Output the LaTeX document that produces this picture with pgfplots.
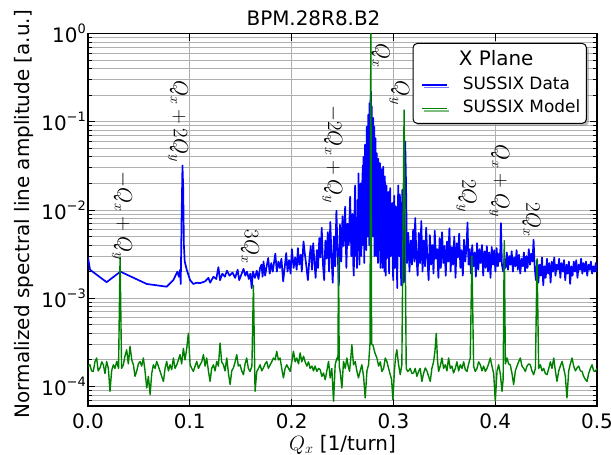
\documentclass[border=0pt]{standalone}
\usepackage[no-math]{fontspec}
\setmainfont{DejaVu Sans}
\usepackage{pgfplots}
\usepackage{pgfplotstable}
\pgfplotsset{compat=1.18}
\usetikzlibrary{calc,shadows}
\definecolor{mplgreen}{RGB}{0,128,0}
\definecolor{gridgray}{RGB}{176,176,176}
\newcommand{\sups}[1]{\raisebox{9bp}{\fontsize{13}{15}\selectfont #1}}

\pgfplotstableread{
x y
0.0000 2.9e-3
0.0020 2.1e-3
0.0183 1.52e-3
0.0318 2.0e-3
0.0577 1.45e-3
0.0773 1.35e-3
0.0839 1.61e-3
0.0878 2.0e-3
0.0893 1.75e-3
0.0905 2.1e-3
0.0911 1.45e-3
0.0920 9.0e-3
0.0928 3.2e-2
0.0935 1.8e-2
0.0942 4.0e-3
0.0950 2.6e-3
0.0970 2.1e-3
0.1003 1.6e-3
0.1035 1.45e-3
0.1068 1.5e-3
0.1100 1.48e-3
0.1150 1.55e-3
0.1183 1.7e-3
0.1200 1.5e-3
0.1232 1.75e-3
0.1260 1.65e-3
0.1281 2.25e-3
0.1297 1.6e-3
0.1320 1.9e-3
0.1345 1.75e-3
0.1365 2.05e-3
0.1390 1.8e-3
0.1420 1.95e-3
0.1445 1.7e-3
0.1470 2.1e-3
0.1485 1.6e-3
0.1510 1.9e-3
0.1528 2.15e-3
0.1545 1.8e-3
0.1562 2.0e-3
0.1580 1.65e-3
0.1595 1.9e-3
0.1608 1.3e-3
0.1620 2.0e-3
0.1640 1.7e-3
0.1658 2.05e-3
0.1675 1.65e-3
0.1690 2.2e-3
0.1705 2.4e-3
0.1715 1.75e-3
0.1724 2.6e-3
0.1740 1.8e-3
0.1755 2.3e-3
0.1770 2.85e-3
0.1785 1.9e-3
0.1800 2.5e-3
0.1815 2.0e-3
0.1840 3.2e-3
0.1855 2.0e-3
0.1870 2.6e-3
0.1885 2.2e-3
0.1900 2.8e-3
0.1917 1.55e-3
0.1935 2.4e-3
0.1947 3.25e-3
0.1960 2.0e-3
0.1975 2.7e-3
0.1990 1.9e-3
0.2003 3.6e-3
0.2020 2.2e-3
0.2035 2.9e-3
0.2050 2.1e-3
0.2062 3.7e-3
0.2075 2.4e-3
0.2090 3.1e-3
0.2100 2.0e-3
0.2117 4.4e-3
0.2130 3.2e-3
0.2145 2.3e-3
0.2160 1.6e-3
0.2175 2.8e-3
0.2188 3.9e-3
0.2200 2.1e-3
0.2212 4.2e-3
0.2224 2.6e-3
0.2236 1.7e-3
0.2248 3.5e-3
0.2260 2.2e-3
0.2272 4.8e-3
0.2284 2.9e-3
0.2296 6.3e-3
0.2308 2.4e-3
0.2320 1.6e-3
0.2332 4.5e-3
0.2344 2.8e-3
0.2356 5.6e-3
0.2368 2.0e-3
0.2380 7.3e-3
0.2392 3.0e-3
0.2404 1.5e-3
0.2416 5.0e-3
0.2428 2.3e-3
0.2440 9.8e-3
0.2452 3.4e-3
0.2464 1.4e-3
0.2476 6.8e-3
0.2488 2.6e-3
0.2500 8.5e-3
0.2512 3.9e-3
0.2526 1.09e-2
0.2538 2.2e-3
0.2550 7.0e-3
0.2562 4.0e-3
0.2575 1.42e-2
0.2587 3.0e-3
0.2599 9.0e-3
0.2605 2.5e-3
0.2611 1.8e-3
0.2617 8.0e-3
0.2624 1.9e-2
0.2630 3.0e-3
0.2636 5.5e-3
0.2642 2.2e-3
0.2648 1.3e-2
0.2653 3.5e-3
0.2657 2.6e-2
0.2662 6.0e-3
0.2666 2.4e-3
0.2672 1.6e-2
0.2678 2.0e-2
0.2684 3.0e-3
0.2690 6.0e-3
0.2695 2.2e-2
0.2700 3.2e-2
0.2703 4.0e-3
0.2706 4.0e-2
0.2710 8.0e-3
0.2714 2.5e-3
0.2718 3.0e-2
0.2722 5.5e-2
0.2726 6.0e-3
0.2730 2.5e-2
0.2734 3.5e-3
0.2739 8.8e-2
0.2742 1.0e-2
0.2746 4.0e-2
0.2749 5.0e-3
0.2752 1.2e-1
0.2755 1.5e-2
0.2758 6.0e-2
0.2762 4.0e-3
0.2765 1.62e-1
0.2769 2.0e-2
0.2772 9.0e-2
0.2776 1.8e-1
0.2780 2.2e-1
0.2784 1.2e-2
0.2788 1.5e-1
0.2792 8.0e-3
0.2795 7.0e-2
0.2799 5.0e-3
0.2802 1.1e-1
0.2806 1.5e-2
0.2811 8.8e-2
0.2815 3.0e-3
0.2818 3.0e-2
0.2822 5.5e-2
0.2825 6.5e-2
0.2828 4.0e-3
0.2831 1.2e-2
0.2834 3.0e-3
0.2837 4.4e-2
0.2841 8.0e-3
0.2845 2.0e-2
0.2849 2.5e-3
0.2852 3.8e-2
0.2856 1.2e-2
0.2860 3.5e-3
0.2864 2.2e-2
0.2868 3.4e-2
0.2872 2.2e-3
0.2876 1.5e-2
0.2880 6.0e-3
0.2884 2.9e-2
0.2888 9.0e-3
0.2892 2.2e-3
0.2896 1.4e-2
0.2900 3.1e-2
0.2904 4.0e-3
0.2908 1.1e-2
0.2912 2.0e-3
0.2916 2.4e-2
0.2920 7.0e-3
0.2924 1.8e-3
0.2928 1.0e-2
0.2932 1.9e-2
0.2936 2.8e-3
0.2940 7.0e-3
0.2945 1.3e-2
0.2950 1.6e-2
0.2954 4.0e-3
0.2958 1.9e-3
0.2963 9.0e-3
0.2968 1.77e-2
0.2973 3.0e-3
0.2978 5.0e-3
0.2983 1.0e-2
0.2988 1.2e-2
0.2993 2.5e-3
0.2998 1.6e-3
0.3003 8.0e-3
0.3008 1.45e-2
0.3013 2.2e-3
0.3018 4.0e-3
0.3023 1.1e-2
0.3028 9.0e-3
0.3033 2.4e-3
0.3038 1.3e-3
0.3043 1.0e-2
0.3048 1.9e-2
0.3053 3.5e-3
0.3058 3.0e-3
0.3063 1.5e-2
0.3068 1.1e-2
0.3073 2.0e-3
0.3078 1.4e-3
0.3083 8.0e-3
0.3088 1.7e-2
0.3093 2.5e-3
0.3098 6.0e-3
0.3103 1.5e-3
0.3108 1.2e-2
0.3116 5.96e-2
0.3124 2.0e-2
0.3134 2.5e-3
0.3146 5.5e-3
0.3158 2.0e-3
0.3170 4.5e-3
0.3182 2.4e-3
0.3194 6.0e-3
0.3206 2.6e-3
0.3214 8.1e-3
0.3226 3.0e-3
0.3238 1.8e-3
0.3250 5.5e-3
0.3262 2.5e-3
0.3274 7.5e-3
0.3286 2.0e-3
0.3298 4.5e-3
0.3310 2.3e-3
0.3322 6.3e-3
0.3334 2.7e-3
0.3346 1.6e-3
0.3358 5.2e-3
0.3370 2.4e-3
0.3382 4.0e-3
0.3394 1.9e-3
0.3406 5.8e-3
0.3418 2.8e-3
0.3430 3.6e-3
0.3442 1.7e-3
0.3454 4.8e-3
0.3466 2.2e-3
0.3478 5.6e-3
0.3490 2.5e-3
0.3502 3.9e-3
0.3514 1.8e-3
0.3526 4.4e-3
0.3538 2.6e-3
0.3550 6.2e-3
0.3562 2.0e-3
0.3574 3.8e-3
0.3586 2.4e-3
0.3598 5.0e-3
0.3610 1.7e-3
0.3622 4.2e-3
0.3634 2.9e-3
0.3646 5.4e-3
0.3658 2.2e-3
0.3670 3.5e-3
0.3682 1.8e-3
0.3694 4.6e-3
0.3706 2.6e-3
0.3718 3.8e-3
0.3728 7.2e-3
0.3738 2.4e-3
0.3750 3.6e-3
0.3762 1.9e-3
0.3774 4.0e-3
0.3786 2.3e-3
0.3798 3.3e-3
0.3810 1.75e-3
0.3822 4.2e-3
0.3834 2.1e-3
0.3846 3.6e-3
0.3858 2.5e-3
0.3870 4.0e-3
0.3882 1.8e-3
0.3894 3.4e-3
0.3906 2.2e-3
0.3918 3.9e-3
0.3930 2.0e-3
0.3942 3.3e-3
0.3954 1.7e-3
0.3966 3.8e-3
0.3978 2.4e-3
0.3990 3.5e-3
0.4002 2.0e-3
0.4014 3.7e-3
0.4026 2.3e-3
0.4038 3.2e-3
0.4048 2.6e-3
0.4056 7.1e-3
0.4066 2.4e-3
0.4078 2.0e-3
0.4090 2.8e-3
0.4102 2.2e-3
0.4114 3.3e-3
0.4126 2.1e-3
0.4138 3.0e-3
0.4150 2.4e-3
0.4162 3.4e-3
0.4174 2.0e-3
0.4186 2.9e-3
0.4198 2.3e-3
0.4210 3.5e-3
0.4222 2.1e-3
0.4234 3.1e-3
0.4246 1.9e-3
0.4258 2.8e-3
0.4270 2.3e-3
0.4282 3.3e-3
0.4294 2.0e-3
0.4306 3.0e-3
0.4318 2.2e-3
0.4330 3.6e-3
0.4342 2.4e-3
0.4354 3.2e-3
0.4366 2.6e-3
0.4377 4.6e-3
0.4388 2.2e-3
0.4400 1.6e-3
0.4412 2.7e-3
0.4424 1.5e-3
0.4436 2.4e-3
0.4448 1.8e-3
0.4460 2.9e-3
0.4472 1.4e-3
0.4484 2.3e-3
0.4496 1.7e-3
0.4508 2.8e-3
0.4520 1.9e-3
0.4532 2.5e-3
0.4544 1.5e-3
0.4556 2.6e-3
0.4568 2.0e-3
0.4580 2.9e-3
0.4592 1.8e-3
0.4604 2.4e-3
0.4616 2.1e-3
0.4628 2.8e-3
0.4640 1.7e-3
0.4652 2.5e-3
0.4664 2.0e-3
0.4676 2.7e-3
0.4688 1.6e-3
0.4700 2.4e-3
0.4712 1.9e-3
0.4724 2.6e-3
0.4736 1.45e-3
0.4748 2.3e-3
0.4760 1.8e-3
0.4772 2.6e-3
0.4784 2.0e-3
0.4796 2.7e-3
0.4808 1.7e-3
0.4820 2.4e-3
0.4832 2.1e-3
0.4844 2.8e-3
0.4856 1.9e-3
0.4868 2.5e-3
0.4880 2.0e-3
0.4892 2.6e-3
0.4904 1.8e-3
0.4916 2.4e-3
0.4928 2.1e-3
0.4940 2.6e-3
0.4952 1.9e-3
0.4964 2.3e-3
0.4976 2.0e-3
0.4988 2.5e-3
0.5000 2.0e-3
}\bluedata

\pgfplotstableread{
x y
0.0000 1.7e-4
0.0019 1.76e-4
0.0035 1.5e-4
0.0052 1.48e-4
0.0068 1.9e-4
0.0085 2.1e-4
0.0100 1.5e-4
0.0118 1.62e-4
0.0135 1.9e-4
0.0151 1.76e-4
0.0167 1.4e-4
0.0183 1.92e-4
0.0200 1.6e-4
0.0216 8.8e-5
0.0232 1.5e-4
0.0249 1.76e-4
0.0265 1.6e-4
0.0282 1.92e-4
0.0300 1.6e-4
0.0315 2.9e-3
0.0330 1.6e-4
0.0347 1.76e-4
0.0363 2.2e-4
0.0380 2.6e-4
0.0396 1.8e-4
0.0413 2.84e-4
0.0430 2.0e-4
0.0446 1.76e-4
0.0462 1.3e-4
0.0478 1.48e-4
0.0495 1.8e-4
0.0511 1.92e-4
0.0527 1.7e-4
0.0544 2.1e-4
0.0560 1.5e-4
0.0577 9.6e-5
0.0593 1.3e-4
0.0610 8.1e-5
0.0626 1.4e-4
0.0642 1.76e-4
0.0659 1.6e-4
0.0675 1.92e-4
0.0691 1.7e-4
0.0708 1.48e-4
0.0724 1.3e-4
0.0741 1.14e-4
0.0757 1.6e-4
0.0773 1.92e-4
0.0790 1.5e-4
0.0806 1.76e-4
0.0822 1.55e-4
0.0839 2.1e-4
0.0855 1.6e-4
0.0872 1.76e-4
0.0888 2.0e-4
0.0904 2.29e-4
0.0920 1.8e-4
0.0937 2.7e-4
0.0953 2.0e-4
0.0970 2.7e-4
0.0986 4.0e-4
0.1003 1.76e-4
0.1019 1.6e-4
0.1035 1.48e-4
0.1052 1.7e-4
0.1068 1.92e-4
0.1085 1.6e-4
0.1101 1.76e-4
0.1117 1.9e-4
0.1134 2.29e-4
0.1150 1.7e-4
0.1166 2.1e-4
0.1183 1.5e-4
0.1199 1.14e-4
0.1215 1.6e-4
0.1232 1.76e-4
0.1248 1.5e-4
0.1265 1.92e-4
0.1281 1.7e-4
0.1297 3.1e-4
0.1313 1.9e-4
0.1330 1.76e-4
0.1346 1.5e-4
0.1363 2.1e-4
0.1380 1.4e-4
0.1396 1.05e-4
0.1412 1.5e-4
0.1428 1.62e-4
0.1445 1.9e-4
0.1461 2.29e-4
0.1477 1.7e-4
0.1494 1.76e-4
0.1510 1.5e-4
0.1527 1.36e-4
0.1543 1.8e-4
0.1559 2.1e-4
0.1575 1.6e-4
0.1592 1.48e-4
0.1610 1.7e-4
0.1625 1.4e-3
0.1641 8.8e-5
0.1658 1.48e-4
0.1675 1.6e-4
0.1691 1.76e-4
0.1707 1.5e-4
0.1723 1.62e-4
0.1740 1.8e-4
0.1756 1.92e-4
0.1772 1.6e-4
0.1789 1.76e-4
0.1805 1.9e-4
0.1822 2.1e-4
0.1838 2.0e-4
0.1854 2.5e-4
0.1870 2.0e-4
0.1887 2.1e-4
0.1903 1.6e-4
0.1920 1.25e-4
0.1936 1.6e-4
0.1953 1.76e-4
0.1970 1.6e-4
0.1986 1.48e-4
0.2002 1.9e-4
0.2018 2.5e-4
0.2035 1.9e-4
0.2051 2.1e-4
0.2068 1.8e-4
0.2084 2.4e-4
0.2100 1.9e-4
0.2117 2.2e-4
0.2133 1.9e-4
0.2150 1.7e-4
0.2166 1.9e-4
0.2182 1.6e-4
0.2200 1.7e-4
0.2215 1.5e-4
0.2231 1.7e-4
0.2248 1.48e-4
0.2265 1.6e-4
0.2281 1.55e-4
0.2297 1.3e-4
0.2313 1.42e-4
0.2330 1.19e-4
0.2346 1.5e-4
0.2363 1.92e-4
0.2379 1.25e-4
0.2395 1.6e-4
0.2412 6.8e-5
0.2428 1.76e-4
0.2445 2.1e-4
0.2455 2.0e-4
0.2461 2.9e-3
0.2468 1.7e-4
0.2477 1.48e-4
0.2494 9.6e-5
0.2510 1.92e-4
0.2527 1.6e-4
0.2543 2.1e-4
0.2556 1.7e-4
0.2569 1.48e-4
0.2580 2.0e-4
0.2592 2.97e-4
0.2608 1.76e-4
0.2625 1.92e-4
0.2641 1.5e-4
0.2657 1.25e-4
0.2674 1.5e-4
0.2690 1.76e-4
0.2707 1.3e-4
0.2723 7.4e-5
0.2740 1.5e-4
0.2756 1.76e-4
0.2770 3.1e-4
0.2778 1.0
0.2786 3.0e-4
0.2798 2.97e-4
0.2818 2.4e-4
0.2838 2.1e-4
0.2855 1.7e-4
0.2871 1.9e-4
0.2887 1.48e-4
0.2904 1.6e-4
0.2920 2.1e-4
0.2936 1.92e-4
0.2953 1.6e-4
0.2969 1.36e-4
0.2982 1.2e-4
0.2995 7.1e-5
0.3010 1.5e-4
0.3022 2.2e-4
0.3034 2.6e-4
0.3050 1.8e-4
0.3067 1.36e-4
0.3083 1.76e-4
0.3105 1.36e-1
0.3126 1.6e-4
0.3140 1.48e-4
0.3149 1.5e-4
0.3165 1.6e-4
0.3182 1.4e-4
0.3198 1.42e-4
0.3214 1.6e-4
0.3231 1.3e-4
0.3247 1.48e-4
0.3263 1.6e-4
0.3280 1.14e-4
0.3296 1.4e-4
0.3313 1.62e-4
0.3329 1.5e-4
0.3346 1.3e-4
0.3362 1.14e-4
0.3378 1.6e-4
0.3395 1.92e-4
0.3408 2.5e-4
0.3421 4.0e-4
0.3433 2.0e-4
0.3444 1.48e-4
0.3460 1.7e-4
0.3477 2.1e-4
0.3493 1.6e-4
0.3510 1.76e-4
0.3526 1.5e-4
0.3542 2.1e-4
0.3559 1.6e-4
0.3575 1.7e-4
0.3591 1.42e-4
0.3608 1.6e-4
0.3624 1.9e-4
0.3641 1.5e-4
0.3657 1.76e-4
0.3674 1.6e-4
0.3690 1.9e-4
0.3706 1.55e-4
0.3723 1.48e-4
0.3739 1.8e-4
0.3755 2.1e-4
0.3771 3.0e-3
0.3788 1.7e-4
0.3804 1.48e-4
0.3821 1.6e-4
0.3837 1.9e-4
0.3854 1.76e-4
0.3870 1.5e-4
0.3886 1.7e-4
0.3903 1.48e-4
0.3919 1.6e-4
0.3935 1.8e-4
0.3952 2.1e-4
0.3968 1.7e-4
0.3985 1.4e-4
0.4001 6.8e-5
0.4018 1.5e-4
0.4034 1.76e-4
0.4050 1.4e-4
0.4067 8.8e-5
0.4078 1.2e-4
0.4089 4.5e-3
0.4100 1.8e-4
0.4116 2.1e-4
0.4132 1.8e-4
0.4148 1.76e-4
0.4165 1.4e-4
0.4181 1.05e-4
0.4198 1.5e-4
0.4214 1.7e-4
0.4230 1.9e-4
0.4247 2.1e-4
0.4263 1.7e-4
0.4280 1.6e-4
0.4296 1.48e-4
0.4312 1.7e-4
0.4329 1.8e-4
0.4345 1.76e-4
0.4361 1.5e-4
0.4378 1.36e-4
0.4395 1.6e-4
0.4411 2.8e-3
0.4427 1.6e-4
0.4444 1.76e-4
0.4460 1.5e-4
0.4476 1.6e-4
0.4493 1.4e-4
0.4509 1.36e-4
0.4526 1.6e-4
0.4542 1.9e-4
0.4558 1.6e-4
0.4575 2.1e-4
0.4591 1.5e-4
0.4607 1.14e-4
0.4624 1.5e-4
0.4640 1.7e-4
0.4657 1.92e-4
0.4673 1.6e-4
0.4689 1.3e-4
0.4705 7.4e-5
0.4722 1.5e-4
0.4738 1.8e-4
0.4755 2.1e-4
0.4771 1.7e-4
0.4788 1.5e-4
0.4804 1.62e-4
0.4820 1.7e-4
0.4837 1.5e-4
0.4853 1.48e-4
0.4869 1.3e-4
0.4886 1.2e-4
0.4902 1.14e-4
0.4918 1.4e-4
0.4935 1.6e-4
0.4951 1.76e-4
0.4967 1.5e-4
0.4984 1.48e-4
0.5000 1.6e-4
}\greendata

\begin{document}
\begin{tikzpicture}
\begin{axis}[
  name=ax,
  scale only axis, width=509bp, height=372.5bp,
  ymode=log, xmin=0, xmax=0.5, ymin=6e-5, ymax=1,
  xtick={0,0.1,0.2,0.3,0.4,0.5},
  xticklabels={0.0,0.1,0.2,0.3,0.4,0.5},
  minor x tick num=0,
  ytick={1e-4,1e-3,1e-2,1e-1,1},
  yticklabels={{10\sups{−4}},{10\sups{−3}},{10\sups{−2}},{10\sups{−1}},{10\sups{0}}},
  minor ytick={6e-5,7e-5,8e-5,9e-5,2e-4,3e-4,4e-4,5e-4,6e-4,7e-4,8e-4,9e-4,2e-3,3e-3,4e-3,5e-3,6e-3,7e-3,8e-3,9e-3,2e-2,3e-2,4e-2,5e-2,6e-2,7e-2,8e-2,9e-2,0.2,0.3,0.4,0.5,0.6,0.7,0.8,0.9},
  grid=both,
  major grid style={draw=gridgray, line width=0.8bp},
  minor grid style={draw=gridgray, line width=0.8bp},
  tick align=inside,
  major tick length=7bp, minor tick length=4bp,
  every tick/.style={black, line width=0.8bp},
  axis line style={line width=1.5bp},
  tick label style={font=\fontsize{20}{24}\selectfont},
  xticklabel style={inner sep=0pt, anchor=north, yshift=-8bp},
  yticklabel style={inner sep=0pt, anchor=east, xshift=-2bp},
  title={BPM.28R8.B2},
  title style={at={(axis description cs:0.443,1.0067)}, anchor=base, font=\fontsize{20}{24}\selectfont, inner sep=0pt},
  xlabel={$Q_x$ [1/turn]},
  xlabel style={at={(axis description cs:0.5,-0.1195)}, anchor=base, font=\fontsize{20}{24}\selectfont, inner sep=0pt},
  ylabel={Normalized spectral line amplitude [a.u.]},
  ylabel style={at={(axis description cs:-0.1159,0.515)}, anchor=base, font=\fontsize{20}{24}\selectfont, inner sep=0pt},
  legend style={at={(axis description cs:0.980,0.9745)}, anchor=north east, draw=black, line width=1bp, rounded corners=4bp, fill=white, inner xsep=3bp, inner ysep=3bp, font=\fontsize{17}{20}\selectfont, nodes={inner sep=3bp, text depth=4.5bp}, drop shadow={shadow xshift=2.5bp, shadow yshift=-2.5bp, opacity=0.5}},
  legend cell align=left,
  legend image code/.code={\path (0bp,0bp) (42bp,0bp); \draw[#1] (5bp,0bp) -- (30bp,0bp);},
]
\addlegendimage{empty legend}
\addlegendentry{\hspace*{-4bp}\rule{0pt}{16.3bp}\fontsize{20}{24}\selectfont X Plane}
\addplot[blue, line width=1.7bp, line join=round] table[x=x, y=y] {\bluedata};
\addlegendentry{\rule{0pt}{13bp}SUSSIX Data}
\addplot[mplgreen, line width=1.4bp, line join=round] table[x=x, y=y] {\greendata};
\addlegendentry{\rule{0pt}{13bp}SUSSIX Model}

\node[rotate=-90, font=\fontsize{21.5}{24}\selectfont, inner sep=0pt] at (axis cs:0.0334,8.6e-3) {$-Q_x+Q_y$};
\node[rotate=-90, font=\fontsize{21.5}{24}\selectfont, inner sep=0pt] at (axis cs:0.0885,0.102) {$Q_x+2Q_y$};
\node[rotate=-90, font=\fontsize{21.5}{24}\selectfont, inner sep=0pt] at (axis cs:0.159,3.82e-3) {$3Q_x$};
\node[rotate=-90, font=\fontsize{21.5}{24}\selectfont, inner sep=0pt] at (axis cs:0.240,0.0426) {$-2Q_x+Q_y$};
\node[rotate=-90, font=\fontsize{21.5}{24}\selectfont, inner sep=0pt] at (axis cs:0.2876,0.556) {$Q_x$};
\node[rotate=-90, font=\fontsize{21.5}{24}\selectfont, inner sep=0pt] at (axis cs:0.3058,0.212) {$Q_y$};
\node[rotate=-90, font=\fontsize{21.5}{24}\selectfont, inner sep=0pt] at (axis cs:0.3717,0.01445) {$2Q_y$};
\node[rotate=-90, font=\fontsize{21.5}{24}\selectfont, inner sep=0pt] at (axis cs:0.404,0.0214) {$Q_x+Q_y$};
\node[rotate=-90, font=\fontsize{21.5}{24}\selectfont, inner sep=0pt] at (axis cs:0.4356,7.7e-3) {$2Q_x$};
\end{axis}
\pgfresetboundingbox
\path[use as bounding box] ($(ax.south west)+(-88bp,-49bp)$) rectangle ($(ax.north east)+(14bp,33.5bp)$);
\end{tikzpicture}
\end{document}
